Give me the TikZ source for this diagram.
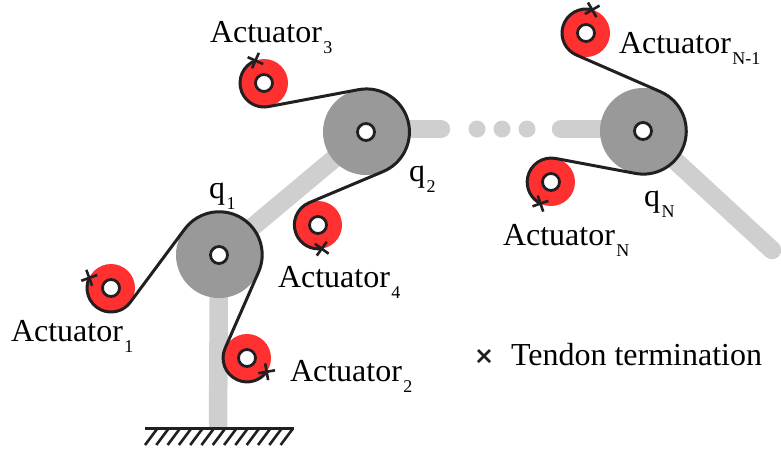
\documentclass[tikz,border=0pt]{standalone}
\usepackage{fontspec}
\setmainfont{Liberation Serif}
\usetikzlibrary{shapes.misc}
\newcommand{\lowidx}[1]{\kern1.5pt\raisebox{-11pt}{\fontsize{18}{18}\selectfont #1}}
\begin{document}
\begin{tikzpicture}[x=1pt,y=1pt,font=\fontsize{32}{32}\selectfont,
  link/.style={draw=linkgray,line width=18.5pt,line cap=round},
  pulley/.style={circle,fill=pulleygray,minimum size=86pt,inner sep=0pt,outer sep=0pt},
  motor/.style={circle,fill=motorred,minimum size=48pt,inner sep=0pt,outer sep=0pt},
  hole/.style={circle,draw=tendonblack,fill=white,line width=2.8pt,minimum size=17pt,inner sep=0pt,outer sep=0pt},
  tendon/.style={draw=tendonblack,line width=3pt,line join=round},
  endmark/.style={cross out,draw=tendonblack,line width=2.6pt,minimum size=12pt,inner sep=0pt,outer sep=0pt},
  dot/.style={circle,fill=linkgray,minimum size=17pt,inner sep=0pt},
  caption/.style={anchor=base west,inner sep=0pt,outer sep=0pt,text=black}]
\definecolor{linkgray}{HTML}{CFCFCF}
\definecolor{pulleygray}{HTML}{999999}
\definecolor{motorred}{HTML}{FF3030}
\definecolor{tendonblack}{HTML}{231F20}
\useasboundingbox (0,0) rectangle (781,-451);
\coordinate (base) at (218,-428);
\coordinate (joint1) at (219,-255);
\coordinate (joint2) at (366,-132);
\coordinate (jointN) at (643,-131);
\coordinate (stubleft) at (441,-129);
\coordinate (stubright) at (561,-129);
\coordinate (armend) at (772,-250);
\draw[link,line cap=butt] (joint1)--(base);
\draw[link] (joint1)--(joint2);
\draw[link] (joint2 |- stubleft)--(stubleft);
\draw[link] (stubright)--(jointN |- stubright);
\draw[link] (jointN)--(armend);
\node[pulley] (q1) at (joint1) {};
\node[pulley] (q2) at (joint2) {};
\node[pulley] (qN) at (jointN) {};
\node[dot] (dot1) at (477,-129) {};
\node[dot] (dot2) at (502,-129) {};
\node[dot] (dot3) at (527,-129) {};
\node[motor] (act1) at (111,-288) {};
\node[motor] (act2) at (247,-358) {};
\node[motor] (act3) at (264,-83) {};
\node[motor] (act4) at (318,-225) {};
\node[motor] (actM) at (586,-33) {};
\node[motor] (actN) at (551,-182) {};
\draw[tendon] (act1.155) arc[start angle=155,end angle=323.4,radius=24pt]
  -- (q1.143.4) arc[start angle=143.4,end angle=-23.7,radius=43pt]
  -- (act2.156.3) arc[start angle=156.3,end angle=325,radius=24pt];
\draw[tendon] (act3.111) arc[start angle=111,end angle=280.6,radius=24pt]
  -- (q2.100.6) arc[start angle=100.6,end angle=-67.1,radius=43pt]
  -- (act4.112.9) arc[start angle=112.9,end angle=279,radius=24pt];
\draw[tendon] (actM.75) arc[start angle=75,end angle=246.4,radius=24pt]
  -- (qN.66.4) arc[start angle=66.4,end angle=-100.6,radius=43pt]
  -- (actN.79.4) arc[start angle=79.4,end angle=244.5,radius=24pt];
\node[hole] (hole1) at (q1) {};
\node[hole] (hole2) at (q2) {};
\node[hole] (holeN) at (qN) {};
\node[hole] (core1) at (act1) {};
\node[hole] (core2) at (act2) {};
\node[hole] (core3) at (act3) {};
\node[hole] (core4) at (act4) {};
\node[hole] (coreM) at (actM) {};
\node[hole] (coreN) at (actN) {};
\node[endmark,rotate=155] (end1) at (act1.155) {};
\node[endmark,rotate=325] (end2) at (act2.325) {};
\node[endmark,rotate=111] (end3) at (act3.111) {};
\node[endmark,rotate=279] (end4) at (act4.279) {};
\node[endmark,rotate=75] (endM) at (actM.75) {};
\node[endmark,rotate=244] (endN) at (actN.244.5) {};
\draw[tendonblack,line width=3pt] (145,-428)--(294,-428);
\foreach \i in {0,...,12}
  \draw[tendonblack,line width=2.6pt] (157+\i*11.3,-429)--(145+\i*11.3,-445);
\node[caption] (name1) at (11,-341) {Actuator\lowidx{1}};
\node[caption] (name2) at (290,-381) {Actuator\lowidx{2}};
\node[caption] (name3) at (210,-42) {Actuator\lowidx{3}};
\node[caption] (name4) at (278,-287) {Actuator\lowidx{4}};
\node[caption] (nameM) at (619,-53) {Actuator\lowidx{N-1}};
\node[caption] (nameN) at (503,-245) {Actuator\lowidx{N}};
\node[caption] (label1) at (209,-198) {q\lowidx{1}};
\node[caption] (label2) at (409,-181) {q\lowidx{2}};
\node[caption] (labelN) at (644,-206) {q\lowidx{N}};
\node[endmark] (legendmark) at (484,-356) {};
\node[caption] (legendtext) at (511,-365) {Tendon termination};
\end{tikzpicture}
\end{document}
